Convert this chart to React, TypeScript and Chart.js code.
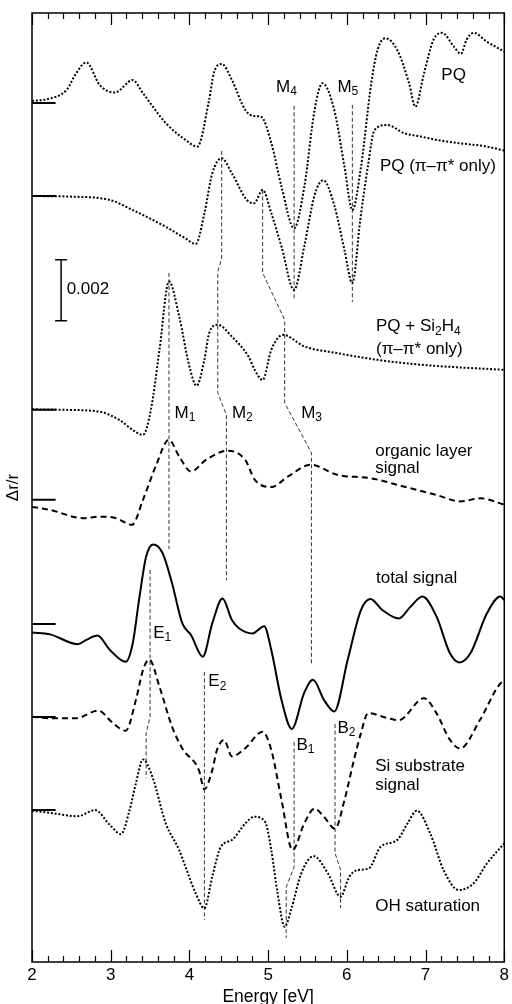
import { useEffect, useRef } from "react";
import { Chart, registerables } from "chart.js";

Chart.register(...registerables);

// ---- Energy axis [eV] ----
const xMin = 2;
const xMax = 8;
const xMajorTicks = [2, 3, 4, 5, 6, 7, 8];
const minorTickStep = 0.2;

// ---- Curve vertical offsets (units of 1e-3 Δr/r) ----
const offsetPQ = 28.16;
const offsetPQpi = 25.11;
const offsetPQSi = 18.1;
const offsetOrganic = 15.15;
const offsetTotal = 11.08;
const offsetSi = 8.03;
const offsetOH = 4.98;

// ---- PQ ----
const energyPQ = [2.0, 2.2, 2.44, 2.56, 2.69, 2.86, 3.05, 3.28, 3.41, 3.7, 3.95, 4.1, 4.25, 4.31, 4.41, 4.54, 4.71, 4.82, 4.91, 5.04, 5.17, 5.33, 5.46, 5.59, 5.69, 5.84, 5.97, 6.07, 6.18, 6.31, 6.39, 6.49, 6.64, 6.79, 6.87, 6.98, 7.1, 7.21, 7.36, 7.45, 7.52, 7.61, 7.78, 8.0];
const valuesPQ = [0.07, 0.13, 0.43, 0.97, 1.33, 0.59, 0.34, 0.75, 0.32, -0.66, -1.21, -1.43, 0.1, 0.98, 1.28, 0.75, -0.23, -0.43, -0.45, -1.31, -2.74, -4.11, -2.74, -0.23, 0.65, -0.23, -2.09, -3.51, -2.09, 0.65, 1.74, 2.12, 1.74, 0.65, -0.12, 0.97, 2.07, 2.3, 1.85, 1.61, 2.07, 2.3, 2.01, 1.68];

// ---- PQ (π–π* only) ----
const energyPQpi = [2.0, 2.5, 2.99, 3.28, 3.7, 3.95, 4.08, 4.19, 4.29, 4.41, 4.54, 4.73, 4.82, 4.93, 5.04, 5.17, 5.33, 5.46, 5.59, 5.7, 5.84, 5.97, 6.07, 6.17, 6.27, 6.35, 6.51, 6.73, 6.94, 7.14, 7.44, 7.78, 8.0];
const valuesPQpi = [0, -0.02, -0.13, -0.46, -1.01, -1.39, -1.57, -0.57, 0.74, 1.24, 0.74, -0.13, -0.24, 0.2, -0.56, -1.66, -3.08, -1.64, 0.03, 0.52, -0.3, -1.77, -2.86, -0.79, 1.02, 2.16, 2.33, 2.06, 1.95, 1.84, 1.73, 1.62, 1.49];

// ---- PQ + Si2H4 (π–π* only) ----
const energyPQSi = [2.0, 2.44, 2.86, 3.11, 3.28, 3.41, 3.51, 3.62, 3.74, 3.87, 4.0, 4.09, 4.19, 4.25, 4.36, 4.54, 4.75, 4.83, 4.93, 5.04, 5.19, 5.46, 5.88, 6.39, 6.94, 8.0];
const valuesPQSi = [0.02, 0, -0.06, -0.33, -0.66, -0.82, 0, 1.97, 4.21, 3.06, 1.42, 0.79, 1.64, 2.51, 2.79, 2.4, 1.75, 1.31, 0.98, 1.97, 2.46, 2.08, 1.86, 1.64, 1.48, 1.31];

// ---- organic layer signal ----
const energyOrganic = [2.0, 2.23, 2.65, 2.86, 3.07, 3.27, 3.41, 3.57, 3.74, 3.87, 4.02, 4.21, 4.48, 4.71, 4.83, 5.04, 5.25, 5.54, 5.88, 6.3, 6.72, 7.14, 7.44, 7.7, 8.0];
const valuesOrganic = [-0.23, -0.33, -0.6, -0.55, -0.6, -0.82, 0, 1.09, 1.97, 1.42, 0.93, 1.31, 1.61, 1.31, 0.66, 0.42, 0.76, 1.15, 0.82, 0.71, 0.44, 0.16, -0.05, 0.05, -0.16];

// ---- total signal ----
const energyTotal = [2.0, 2.23, 2.58, 2.69, 2.83, 2.99, 3.19, 3.28, 3.36, 3.45, 3.54, 3.66, 3.78, 3.91, 4.02, 4.17, 4.29, 4.42, 4.54, 4.63, 4.8, 4.95, 5.04, 5.17, 5.3, 5.46, 5.57, 5.71, 5.84, 6.01, 6.18, 6.3, 6.45, 6.66, 6.81, 6.96, 7.14, 7.31, 7.43, 7.57, 7.78, 7.95, 8.0];
const valuesTotal = [-0.28, -0.34, -0.66, -0.52, -0.38, -0.85, -1.24, -0.63, 0.79, 2.21, 2.61, 2.32, 1.33, 0.02, -0.36, -1.07, 0.02, 0.84, 0.13, -0.14, -0.31, -0.07, -0.85, -2.49, -3.44, -2.24, -1.83, -2.49, -2.87, -1.18, 0.46, 0.82, 0.46, 0.18, 0.57, 0.9, 0.24, -0.96, -1.26, -0.96, 0.35, 0.9, 0.79];

// ---- Si substrate signal ----
const energySi = [2.0, 2.23, 2.56, 2.84, 3.03, 3.19, 3.32, 3.41, 3.49, 3.62, 3.78, 3.91, 4.12, 4.19, 4.29, 4.35, 4.44, 4.54, 4.71, 4.93, 5.04, 5.17, 5.31, 5.46, 5.59, 5.71, 5.85, 5.97, 6.09, 6.18, 6.27, 6.51, 6.66, 6.98, 7.14, 7.31, 7.44, 7.69, 7.95, 8.0];
const valuesSi = [0.01, -0.04, -0.04, 0.21, -0.2, -0.45, 0.56, 1.54, 1.89, 0.99, -0.32, -1.03, -1.74, -2.37, -1.74, -1.08, -0.75, -1.29, -1.02, -0.48, -1.08, -2.72, -4.36, -3.48, -3.0, -3.27, -3.66, -2.72, -1.41, -0.52, 0.13, -0.03, -0.1, 0.62, 0.12, -0.75, -1.03, -0.1, 1.1, 1.16];

// ---- OH saturation ----
const energyOH = [2.0, 2.23, 2.58, 2.8, 2.99, 3.13, 3.24, 3.32, 3.41, 3.53, 3.7, 3.87, 3.95, 4.08, 4.19, 4.29, 4.4, 4.54, 4.71, 4.82, 4.96, 5.04, 5.12, 5.21, 5.29, 5.42, 5.58, 5.76, 5.92, 6.03, 6.13, 6.28, 6.43, 6.64, 6.77, 6.89, 7.06, 7.23, 7.42, 7.61, 7.78, 8.0];
const valuesOH = [-0.02, -0.09, -0.2, 0, -0.49, -0.79, 0, 0.88, 1.66, 1.09, -0.44, -1.31, -1.86, -2.73, -3.22, -2.18, -1.2, -0.98, -0.44, -0.22, -0.38, -1.31, -2.73, -3.83, -3.28, -2.08, -1.51, -2.08, -2.84, -2.19, -1.97, -1.91, -1.2, -0.98, -0.44, -0.02, -0.77, -1.97, -2.62, -2.4, -1.75, -1.09];

// ---- Feature guide lines (energy, absolute plot value) ----
const guideM1x = [3.74, 3.74];
const guideM1y = [22.59, 13.54];
const guideM2x = [4.41, 4.41, 4.36, 4.36, 4.47, 4.47];
const guideM2y = [26.59, 23.08, 22.62, 18.66, 17.93, 12.52];
const guideM3x = [4.93, 4.93, 5.21, 5.21, 5.55, 5.55];
const guideM3y = [25.31, 22.59, 21.05, 18.33, 16.69, 9.74];
const guideM4x = [5.33, 5.33];
const guideM4y = [28.07, 21.7];
const guideM5x = [6.07, 6.07];
const guideM5y = [28.1, 21.64];
const guideE1x = [3.5, 3.5, 3.45, 3.45];
const guideE1y = [12.85, 8.03, 7.5, 6.03];
const guideE2x = [4.19, 4.19];
const guideE2y = [9.51, 1.38];
const guideB1x = [5.33, 5.33, 5.23, 5.23];
const guideB1y = [7.21, 3.11, 2.46, 0.79];
const guideB2x = [5.85, 5.85, 5.92, 5.92];
const guideB2y = [7.8, 3.57, 3.02, 1.77];

// ---- Scale bar: 0.002 ----
const scaleBarX = [2.37, 2.37];
const scaleBarY = [21.02, 23.02];
const baselineMarkX = [2.0, 2.3];

type Part = { t: string; sub?: boolean };
type Label = { x: number; y: number; parts: Part[] };

const curveLabels: Label[] = [
  { x: 7.2, y: 29.08, parts: [{ t: "PQ" }] },
  { x: 6.42, y: 26.07, parts: [{ t: "PQ (π–π* only)" }] },
  { x: 5.1, y: 28.69, parts: [{ t: "M" }, { t: "4", sub: true }] },
  { x: 5.88, y: 28.69, parts: [{ t: "M" }, { t: "5", sub: true }] },
  { x: 6.37, y: 20.83, parts: [{ t: "PQ + Si" }, { t: "2", sub: true }, { t: "H" }, { t: "4", sub: true }] },
  { x: 6.37, y: 20.07, parts: [{ t: "(π–π* only)" }] },
  { x: 3.81, y: 18.0, parts: [{ t: "M" }, { t: "1", sub: true }] },
  { x: 4.54, y: 18.0, parts: [{ t: "M" }, { t: "2", sub: true }] },
  { x: 5.42, y: 18.0, parts: [{ t: "M" }, { t: "3", sub: true }] },
  { x: 6.36, y: 16.73, parts: [{ t: "organic layer" }] },
  { x: 6.36, y: 16.2, parts: [{ t: "signal" }] },
  { x: 6.37, y: 12.59, parts: [{ t: "total signal" }] },
  { x: 3.54, y: 10.79, parts: [{ t: "E" }, { t: "1", sub: true }] },
  { x: 4.24, y: 9.19, parts: [{ t: "E" }, { t: "2", sub: true }] },
  { x: 5.36, y: 7.11, parts: [{ t: "B" }, { t: "1", sub: true }] },
  { x: 5.88, y: 7.67, parts: [{ t: "B" }, { t: "2", sub: true }] },
  { x: 6.36, y: 6.4, parts: [{ t: "Si substrate" }] },
  { x: 6.36, y: 5.8, parts: [{ t: "signal" }] },
  { x: 6.36, y: 1.81, parts: [{ t: "OH saturation" }] },
  { x: 2.44, y: 22.06, parts: [{ t: "0.002" }] },
];

const FONT = '"Liberation Sans", Arial, Helvetica, sans-serif';

const pts = (xs: number[], ys: number[], off = 0) =>
  xs.map((x, i) => ({ x, y: ys[i] + off }));

const decorPlugin = {
  id: "decor",
  afterDatasetsDraw(chart: any) {
    const { ctx, chartArea: a, scales } = chart;
    const sx = scales.x;
    const sy = scales.y;
    ctx.save();
    ctx.strokeStyle = "#000";
    // ticks (inward, top and bottom)
    ctx.lineWidth = 1.2;
    const n = Math.round((xMax - xMin) / minorTickStep);
    for (let i = 0; i <= n; i++) {
      const v = xMin + i * minorTickStep;
      const px = Math.round(sx.getPixelForValue(v)) + 0.5;
      const len = i % 5 === 0 ? 12 : 6;
      ctx.beginPath();
      ctx.moveTo(px, a.bottom);
      ctx.lineTo(px, a.bottom - len);
      ctx.moveTo(px, a.top);
      ctx.lineTo(px, a.top + len);
      ctx.stroke();
    }
    // frame
    ctx.lineWidth = 1.5;
    ctx.strokeRect(a.left, a.top, a.right - a.left, a.bottom - a.top);
    // labels
    ctx.fillStyle = "#000";
    ctx.textBaseline = "middle";
    ctx.textAlign = "left";
    for (const lab of curveLabels) {
      let px = sx.getPixelForValue(lab.x);
      const py = sy.getPixelForValue(lab.y);
      for (const p of lab.parts) {
        ctx.font = p.sub ? `12px ${FONT}` : `17px ${FONT}`;
        ctx.fillText(p.t, px, p.sub ? py + 5 : py);
        px += ctx.measureText(p.t).width;
      }
    }
    ctx.restore();
  },
};

export default function App() {
  const ref = useRef<HTMLCanvasElement>(null);

  useEffect(() => {
    if (!ref.current) return;
    Chart.defaults.font.family = FONT;
    const dotted = { borderDash: [2, 1.8], borderWidth: 2 };
    const dashed = { borderDash: [6, 4], borderWidth: 2 };
    const guide = { borderDash: [4, 2.5], borderWidth: 1, borderColor: "#333", tension: 0 };
    const curve = (label: string, xs: number[], ys: number[], off: number, style: any) => ({
      label,
      data: pts(xs, ys, off),
      borderColor: "#000",
      cubicInterpolationMode: "monotone" as const,
      pointRadius: 0,
      fill: false,
      ...style,
    });
    const mark = (label: string, off: number) => ({
      label,
      data: pts(baselineMarkX, [0, 0], off),
      borderColor: "#000",
      borderWidth: 2,
      pointRadius: 0,
    });
    const g = (label: string, xs: number[], ys: number[]) => ({
      label,
      data: pts(xs, ys),
      pointRadius: 0,
      ...guide,
    });

    const chart = new Chart(ref.current, {
      type: "line",
      data: {
        datasets: [
          curve("PQ", energyPQ, valuesPQ, offsetPQ, dotted),
          curve("PQ (π–π* only)", energyPQpi, valuesPQpi, offsetPQpi, dotted),
          curve("PQ + Si2H4 (π–π* only)", energyPQSi, valuesPQSi, offsetPQSi, dotted),
          curve("organic layer signal", energyOrganic, valuesOrganic, offsetOrganic, dashed),
          curve("total signal", energyTotal, valuesTotal, offsetTotal, { borderWidth: 2 }),
          curve("Si substrate signal", energySi, valuesSi, offsetSi, dashed),
          curve("OH saturation", energyOH, valuesOH, offsetOH, dotted),
          mark("base PQ", offsetPQ),
          mark("base PQpi", offsetPQpi),
          mark("base PQSi", offsetPQSi),
          mark("base organic", offsetOrganic),
          mark("base total", offsetTotal),
          mark("base Si", offsetSi),
          mark("base OH", offsetOH),
          g("M1", guideM1x, guideM1y),
          g("M2", guideM2x, guideM2y),
          g("M3", guideM3x, guideM3y),
          g("M4", guideM4x, guideM4y),
          g("M5", guideM5x, guideM5y),
          g("E1", guideE1x, guideE1y),
          g("E2", guideE2x, guideE2y),
          g("B1", guideB1x, guideB1y),
          g("B2", guideB2x, guideB2y),
          {
            label: "scale bar 0.002",
            data: pts(scaleBarX, scaleBarY),
            borderColor: "#000",
            borderWidth: 1.5,
            pointStyle: "line",
            pointRadius: 6,
            pointBorderWidth: 1.5,
            pointBorderColor: "#000",
            pointHoverRadius: 6,
          },
        ],
      },
      options: {
        animation: false,
        responsive: true,
        maintainAspectRatio: false,
        events: [],
        layout: { padding: { top: 13, right: 5, left: 0, bottom: 0 } },
        plugins: { legend: { display: false }, tooltip: { enabled: false } },
        scales: {
          x: {
            type: "linear",
            min: xMin,
            max: xMax,
            afterBuildTicks: (scale: any) => {
              scale.ticks = xMajorTicks.map((v) => ({ value: v }));
            },
            ticks: {
              color: "#000",
              font: { size: 17, lineHeight: 1.2 },
              padding: 3,
              maxRotation: 0,
              autoSkip: false,
            },
            grid: { display: false, drawTicks: false },
            border: { display: false },
            title: {
              display: true,
              text: "Energy [eV]",
              color: "#000",
              font: { size: 17.5, lineHeight: 0.8 },
              padding: 0,
            },
            afterFit: (scale: any) => {
              scale.height = 42;
            },
          },
          y: {
            type: "linear",
            min: 0,
            max: 31.11,
            ticks: { display: false },
            grid: { display: false, drawTicks: false },
            border: { display: false },
            title: {
              display: true,
              text: "Δr/r",
              color: "#000",
              font: { size: 17, lineHeight: 1.2 },
              padding: { top: 3, bottom: 3 },
            },
            afterFit: (scale: any) => {
              scale.width = 32;
            },
          },
        },
      },
      plugins: [decorPlugin],
    });
    return () => chart.destroy();
  }, []);

  return (
    <div style={{ position: "absolute", left: 0, top: 0, width: 512, height: 1004 }}>
      <canvas ref={ref} />
    </div>
  );
}
